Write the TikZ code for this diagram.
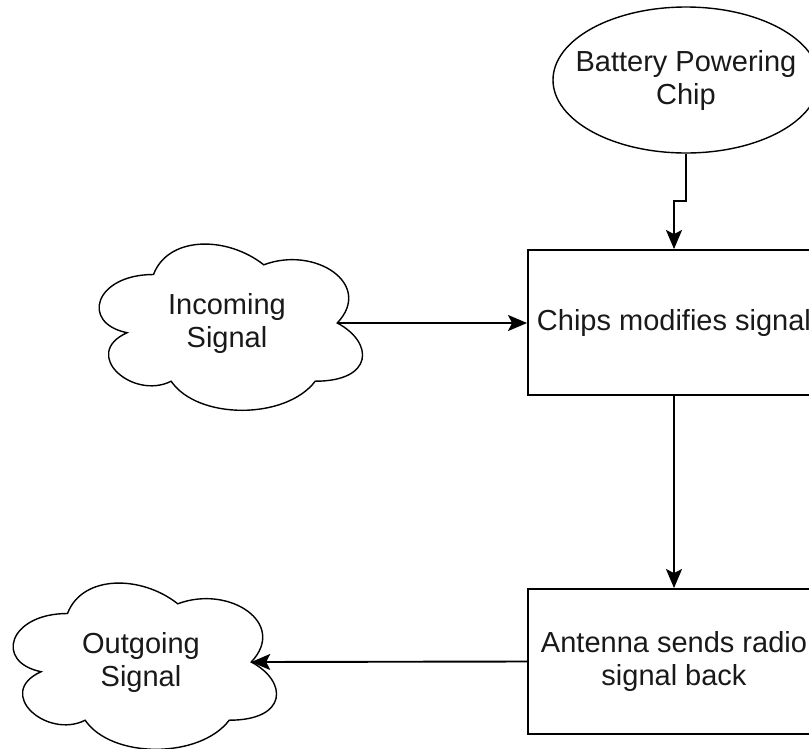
\documentclass[tikz,border=0pt]{standalone}
\usepackage{fontspec}
\setmainfont{Liberation Sans}
\usetikzlibrary{shapes.geometric,arrows.meta}
\tikzset{
  lbl/.style={font=\fontsize{29}{33}\selectfont, text=black!90, align=center},
  boxnode/.style={lbl, draw, line width=1.9pt, minimum width=292pt, minimum height=145pt, inner sep=0pt},
  ovalnode/.style={draw, ellipse, line width=1.4pt, minimum width=266pt, minimum height=146pt, inner sep=0pt},
  cloudtxt/.style={lbl, minimum width=220pt, minimum height=100pt, inner sep=0pt},
  cloudline/.style={draw, line width=1.4pt},
  arrow/.style={draw, line width=1.9pt, -{Stealth[length=19pt,width=16pt,inset=4pt]}},
}
\newcommand{\mycloud}[1]{%
  \begin{scope}[shift={(#1.center)}, x={(294pt,0pt)}, y={(0pt,-194pt)}]
    \draw[cloudline] (-0.25,-0.25)
      .. controls (-0.45,-0.25) and (-0.5,0) .. (-0.34,0.05)
      .. controls (-0.5,0.16) and (-0.32,0.4) .. (-0.19,0.3)
      .. controls (-0.1,0.5) and (0.2,0.5) .. (0.3,0.3)
      .. controls (0.5,0.3) and (0.5,0.1) .. (0.375,0)
      .. controls (0.5,-0.2) and (0.3,-0.4) .. (0.125,-0.3)
      .. controls (0,-0.45) and (-0.2,-0.45) .. (-0.25,-0.25)
      -- cycle;
  \end{scope}}
\begin{document}
\begin{tikzpicture}[x=1pt, y=-1pt]
  \useasboundingbox (0,0) rectangle (809,748);
  % nodes
  \node[ovalnode] (bat) at (686,80) {};
  \node[lbl] (battxt) at (bat.center) {Battery Powering\\Chip};
  \node[boxnode] (chips) at (674,322.5) {Chips modifies signal};
  \node[boxnode] (ant) at (674,661.5) {Antenna sends radio\\signal back};
  \node[cloudtxt] (inc) at (227,323) {Incoming\\Signal};
  \node[cloudtxt] (out) at (141,662) {Outgoing\\Signal};
  \mycloud{inc}
  \mycloud{out}
  % connectors
  \coordinate (jog) at (686,201);
  \draw[arrow] (bat.south) -- (jog) -| (chips.north);
  \draw[arrow] (inc.east) -- (inc.east -| chips.west);
  \draw[arrow] (chips.south) -- (ant.north);
  \draw[arrow] (ant.west) -- (out.east);
\end{tikzpicture}
\end{document}
